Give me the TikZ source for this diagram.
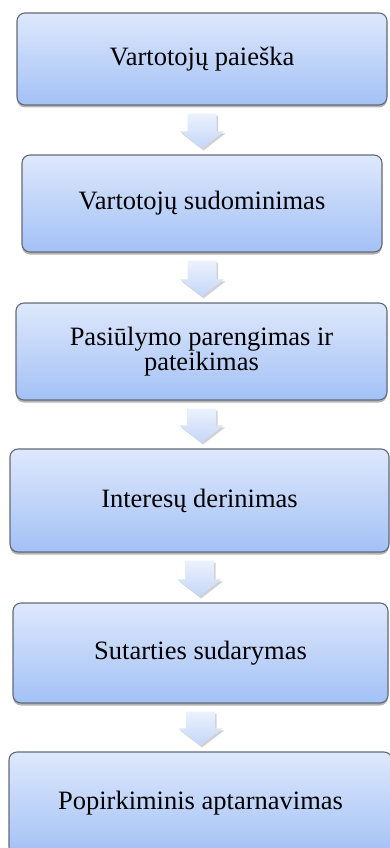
\documentclass[tikz,border=0pt]{standalone}
\usepackage{fontspec}
\setmainfont{Liberation Serif}
\usetikzlibrary{calc,shadows}
\definecolor{boxtop}{RGB}{222,232,252}
\definecolor{boxbot}{RGB}{163,193,246}
\definecolor{boxline}{RGB}{98,106,120}
\definecolor{arrtop}{RGB}{236,242,253}
\definecolor{arrbot}{RGB}{196,214,248}
\tikzset{
  stepbox/.style={draw=boxline, line width=1.1pt, rounded corners=8pt,
    top color=boxtop, bottom color=boxbot, inner sep=0pt, align=center,
    font=\fontsize{26.5}{25.5}\selectfont,
    drop shadow={shadow xshift=0pt, shadow yshift=-2.5pt, opacity=0.3, fill=black}},
  blockarrow/.style={top color=arrtop, bottom color=arrbot, draw=none,
    drop shadow={shadow xshift=1.5pt, shadow yshift=-2pt, opacity=0.18, fill=black}}
}
\newcommand\flowarrow[2]{%
  \path[blockarrow]
    ($(#1.south)+(-14.5,8)$) -- ($(#1.south)+(14.5,8)$)
    -- ($(#1.south |- #2.north)+(14.5,-23)$)
    -- ($(#1.south |- #2.north)+(22,-23)$)
    -- ($(#1.south |- #2.north)+(0,-6)$)
    -- ($(#1.south |- #2.north)+(-22,-23)$)
    -- ($(#1.south |- #2.north)+(-14.5,-23)$) -- cycle;}
\begin{document}
\begin{tikzpicture}[x=1pt,y=-1pt]
\useasboundingbox (0,0) rectangle (389,848);
\node[stepbox, minimum width=370pt, minimum height=92pt] (b1) at (202,59) {Vartotojų paieška};
\node[stepbox, minimum width=360pt, minimum height=97pt] (b2) at (202,203.5) {Vartotojų sudominimas};
\node[stepbox, minimum width=371pt, minimum height=97pt] (b3) at (201.5,351.5) {Pasiūlymo parengimas ir\\pateikimas};
\node[stepbox, minimum width=379pt, minimum height=103pt] (b4) at (199.5,500.5) {Interesų derinimas};
\node[stepbox, minimum width=375pt, minimum height=100pt] (b5) at (200.5,653) {Sutarties sudarymas};
\node[stepbox, minimum width=383pt, minimum height=103pt] (b6) at (200.5,803.5) {Popirkiminis aptarnavimas};
\flowarrow{b1}{b2}
\flowarrow{b2}{b3}
\flowarrow{b3}{b4}
\flowarrow{b4}{b5}
\flowarrow{b5}{b6}
\end{tikzpicture}
\end{document}
